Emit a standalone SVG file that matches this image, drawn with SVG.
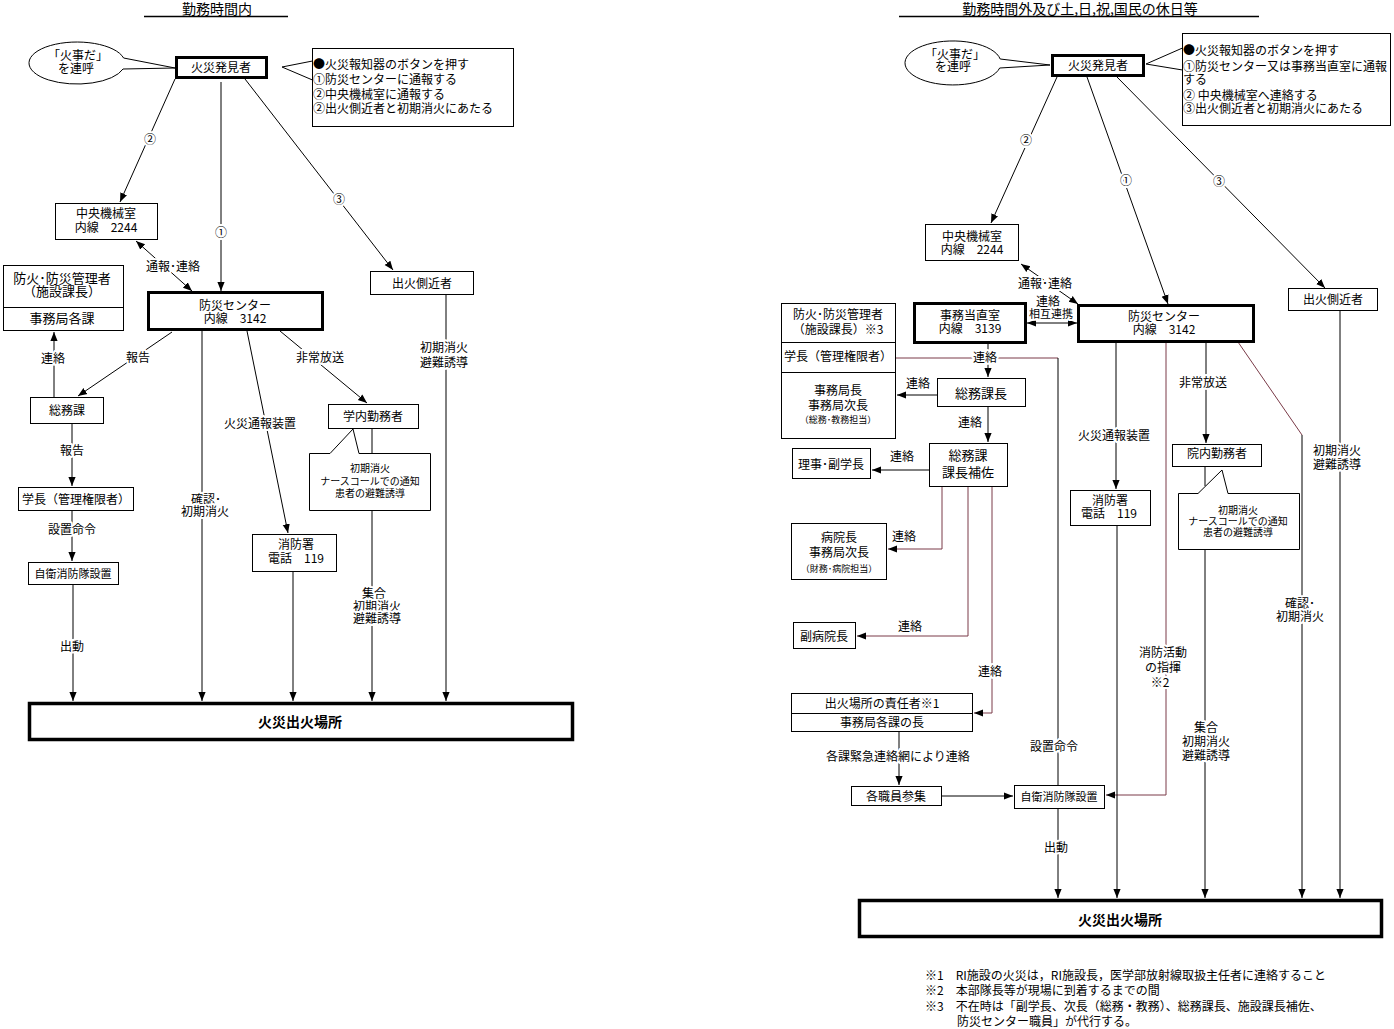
<svg xmlns="http://www.w3.org/2000/svg" width="1394" height="1029" viewBox="0 0 1394 1029">
<style>
text{font-family:"Noto Sans CJK JP","Noto Sans",sans-serif;font-size:12px;fill:#000;text-anchor:middle}
.st{text-anchor:start}
.s{font-size:10px}
.xs{font-size:9px}
.m{font-size:11px}
.b13{font-size:13px}
.ttl{font-size:14px}
.big{font-size:14px;font-weight:bold}
.lb{paint-order:stroke;stroke:#fff;stroke-width:4px;stroke-linejoin:round}
.box{fill:#fff;stroke:#000;stroke-width:1}
.thick{fill:#fff;stroke:#000;stroke-width:3}
.heavy{fill:#fff;stroke:#000;stroke-width:3.5}
.ln{fill:none;stroke:#000;stroke-width:1}
.mr{fill:none;stroke:#7a3b48;stroke-width:1}
.ul{stroke:#000;stroke-width:1.6}
</style>
<defs>
<marker id="ar" viewBox="0 0 10 10" refX="10" refY="5" markerWidth="9" markerHeight="9" markerUnits="userSpaceOnUse" orient="auto-start-reverse">
<path d="M0,1 L10,5 L0,9 z" fill="#000"/>
</marker>
</defs>
<rect width="1394" height="1029" fill="#fff"/>

<g id="connectors">
<!-- left -->
<line class="ln" x1="175" y1="79" x2="120" y2="202" marker-end="url(#ar)"/>
<line class="ln" x1="221" y1="82" x2="221" y2="291" marker-end="url(#ar)"/>
<line class="ln" x1="245" y1="79" x2="393" y2="270" marker-end="url(#ar)"/>
<line class="ln" x1="136" y1="241" x2="192" y2="291" marker-start="url(#ar)" marker-end="url(#ar)"/>
<line class="ln" x1="54" y1="397" x2="54" y2="332" marker-end="url(#ar)"/>
<line class="ln" x1="172" y1="332" x2="78" y2="396" marker-end="url(#ar)"/>
<line class="ln" x1="72" y1="424" x2="72" y2="486" marker-end="url(#ar)"/>
<line class="ln" x1="72" y1="511" x2="72" y2="561" marker-end="url(#ar)"/>
<line class="ln" x1="73" y1="585" x2="73" y2="701" marker-end="url(#ar)"/>
<line class="ln" x1="202" y1="331" x2="202" y2="701" marker-end="url(#ar)"/>
<line class="ln" x1="247" y1="331" x2="288" y2="533" marker-end="url(#ar)"/>
<line class="ln" x1="293" y1="572" x2="293" y2="701" marker-end="url(#ar)"/>
<line class="ln" x1="280" y1="331" x2="367" y2="403" marker-end="url(#ar)"/>
<line class="ln" x1="372" y1="429" x2="372" y2="453"/>
<line class="ln" x1="372" y1="511" x2="372" y2="701" marker-end="url(#ar)"/>
<line class="ln" x1="446" y1="295" x2="446" y2="701" marker-end="url(#ar)"/>
<!-- right -->
<line class="ln" x1="1057" y1="77" x2="991" y2="223" marker-end="url(#ar)"/>
<line class="ln" x1="1087" y1="77" x2="1168" y2="304" marker-end="url(#ar)"/>
<line class="ln" x1="1117" y1="77" x2="1325" y2="288" marker-end="url(#ar)"/>
<line class="ln" x1="1021" y1="264" x2="1078" y2="304" marker-start="url(#ar)" marker-end="url(#ar)"/>
<line class="ln" x1="1027" y1="323" x2="1077" y2="323" marker-start="url(#ar)" marker-end="url(#ar)"/>
<line class="mr" x1="896" y1="358" x2="1058" y2="358"/>
<line class="ln" x1="1058" y1="358" x2="1058" y2="785"/>
<line class="ln" x1="988" y1="343" x2="988" y2="377" marker-end="url(#ar)"/>
<line class="ln" x1="937" y1="395" x2="897" y2="395" marker-end="url(#ar)"/>
<line class="ln" x1="988" y1="407" x2="988" y2="442" marker-end="url(#ar)"/>
<line class="ln" x1="929" y1="470" x2="872" y2="470" marker-end="url(#ar)"/>
<path class="mr" d="M942,487 V549 H888" marker-end="url(#ar)"/>
<path class="mr" d="M968,487 V636 H857" marker-end="url(#ar)"/>
<path class="mr" d="M992,487 V713 H974" marker-end="url(#ar)"/>
<line class="ln" x1="899" y1="732" x2="899" y2="785" marker-end="url(#ar)"/>
<line class="ln" x1="942" y1="796" x2="1013" y2="796" marker-end="url(#ar)"/>
<path class="mr" d="M1166,342 V795 H1106" marker-end="url(#ar)"/>
<line class="ln" x1="1058" y1="809" x2="1058" y2="898" marker-end="url(#ar)"/>
<line class="ln" x1="1116" y1="342" x2="1116" y2="489" marker-end="url(#ar)"/>
<line class="ln" x1="1117" y1="526" x2="1117" y2="898" marker-end="url(#ar)"/>
<line class="ln" x1="1206" y1="342" x2="1206" y2="443" marker-end="url(#ar)"/>
<line class="ln" x1="1205" y1="467" x2="1205" y2="486"/>
<line class="ln" x1="1205" y1="549" x2="1205" y2="898" marker-end="url(#ar)"/>
<path class="mr" d="M1238,342 L1302,435"/>
<line class="ln" x1="1302" y1="435" x2="1302" y2="898" marker-end="url(#ar)"/>
<line class="ln" x1="1340" y1="311" x2="1340" y2="898" marker-end="url(#ar)"/>

<!-- labels left -->
<text class="lb" x="150" y="144">②</text>
<text class="lb" x="221" y="237">①</text>
<text class="lb" x="339" y="204">③</text>
<text class="lb" x="173" y="271">通報･連絡</text>
<text class="lb" x="53" y="363">連絡</text>
<text class="lb" x="138" y="362">報告</text>
<text class="lb" x="72" y="455">報告</text>
<text class="lb" x="72" y="534">設置命令</text>
<text class="lb" x="72" y="651">出動</text>
<text class="lb" y="504"><tspan x="206">確認･</tspan><tspan x="205" dy="12">初期消火</tspan></text>
<text class="lb" x="260" y="428">火災通報装置</text>
<text class="lb" x="320" y="362">非常放送</text>
<text class="lb" y="598"><tspan x="374">集合</tspan><tspan x="377" dy="13">初期消火</tspan><tspan x="377" dy="12">避難誘導</tspan></text>
<text class="lb" y="352"><tspan x="444">初期消火</tspan><tspan x="444" dy="15">避難誘導</tspan></text>
<!-- labels right -->
<text class="lb" x="1026" y="145">②</text>
<text class="lb" x="1126" y="185">①</text>
<text class="lb" x="1219" y="186">③</text>
<text class="lb" x="1045" y="288">通報･連絡</text>
<text class="lb" y="306"><tspan x="1048">連絡</tspan><tspan class="m" x="1051" dy="12">相互連携</tspan></text>
<text class="lb" x="985" y="362">連絡</text>
<text class="lb" x="918" y="388">連絡</text>
<text class="lb" x="970" y="427">連絡</text>
<text class="lb" x="902" y="461">連絡</text>
<text class="lb" x="904" y="541">連絡</text>
<text class="lb" x="910" y="631">連絡</text>
<text class="lb" x="990" y="676">連絡</text>
<text class="lb" x="898" y="761">各課緊急連絡網により連絡</text>
<text class="lb" x="1054" y="751">設置命令</text>
<text class="lb" x="1056" y="852">出動</text>
<text class="lb" y="657"><tspan x="1163">消防活動</tspan><tspan x="1163" dy="15">の指揮</tspan><tspan x="1160" dy="15">※2</tspan></text>
<text class="lb" x="1114" y="440">火災通報装置</text>
<text class="lb" x="1203" y="387">非常放送</text>
<text class="lb" y="732"><tspan x="1206">集合</tspan><tspan x="1206" dy="14">初期消火</tspan><tspan x="1206" dy="14">避難誘導</tspan></text>
<text class="lb" y="608"><tspan x="1300">確認･</tspan><tspan x="1300" dy="13">初期消火</tspan></text>
<text class="lb" y="455"><tspan x="1337">初期消火</tspan><tspan x="1337" dy="14">避難誘導</tspan></text>
</g>

<!-- LEFT nodes -->
<g id="title-l">
<text class="ttl" x="217" y="14">勤務時間内</text>
<line class="ul" x1="144" y1="16.5" x2="288" y2="16.5"/>
</g>
<g id="shout-l">
<path class="box" d="M123.6,58 L175,68 L123,69 A48,21 0 1 1 123.6,58 Z"/>
<text y="60"><tspan x="78">「火事だ」</tspan><tspan x="76" dy="13">を連呼</tspan></text>
</g>
<g id="finder-l">
<rect class="thick" x="176.5" y="57.5" width="90" height="20"/>
<text x="221" y="72">火災発見者</text>
</g>
<g id="note-l">
<rect class="box" x="312.5" y="48.5" width="201" height="78"/>
<line class="ln" x1="282" y1="67" x2="312.5" y2="61"/>
<line class="ln" x1="282" y1="67" x2="312.5" y2="80"/>
<text class="st" y="69"><tspan x="313">●火災報知器のボタンを押す</tspan><tspan x="313" dy="15">①防災センターに通報する</tspan><tspan x="313" dy="14.5">②中央機械室に通報する</tspan><tspan x="313" dy="14.5">②出火側近者と初期消火にあたる</tspan></text>
</g>
<g id="kikai-l">
<rect class="box" x="55.5" y="203.5" width="102" height="36"/>
<text y="217.5"><tspan x="106">中央機械室</tspan><tspan x="106" dy="14">内線　2244</tspan></text>
</g>
<g id="center-l">
<rect class="thick" x="148.5" y="292.5" width="174" height="37"/>
<text y="310"><tspan x="235">防災センター</tspan><tspan x="235" dy="13">内線　3142</tspan></text>
</g>
<g id="kanri-l">
<rect class="box" x="3.5" y="265.5" width="120" height="65"/>
<line class="ln" x1="3.5" y1="307.5" x2="123.5" y2="307.5"/>
<text class="b13" y="283"><tspan x="62">防火･防災管理者</tspan><tspan x="62" dy="13">（施設課長）</tspan></text>
<text class="b13" x="62" y="323">事務局各課</text>
</g>
<g id="somu-l">
<rect class="box" x="30.5" y="397.5" width="73" height="26"/>
<text x="67" y="414.5">総務課</text>
</g>
<g id="gakucho-l">
<rect class="box" x="18.5" y="487.5" width="115" height="23"/>
<text x="76" y="504">学長（管理権限者）</text>
</g>
<g id="jiei-l">
<rect class="box" x="28.5" y="562.5" width="90" height="22"/>
<text class="m" x="73" y="577.5">自衛消防隊設置</text>
</g>
<g id="shobo-l">
<rect class="box" x="252.5" y="534.5" width="84" height="37"/>
<text y="548.5"><tspan x="296">消防署</tspan><tspan x="296" dy="14.5">電話　119</tspan></text>
</g>
<g id="gakunai-l">
<rect class="box" x="328.5" y="404.5" width="90" height="24"/>
<text x="373" y="420.5">学内勤務者</text>
</g>
<g id="gakunai-note-l">
<path class="box" d="M309.5,453.5 H330 L353,429 L359,453.5 H430.5 V510.5 H309.5 Z"/>
<text class="s" y="472"><tspan x="370">初期消火</tspan><tspan x="370" dy="13">ナースコールでの通知</tspan><tspan x="370" dy="12">患者の避難誘導</tspan></text>
</g>
<g id="sokkin-l">
<rect class="box" x="370.5" y="271.5" width="103" height="23"/>
<text x="422" y="287.5">出火側近者</text>
</g>
<g id="fire-l">
<rect class="heavy" x="29.5" y="703.5" width="543" height="36"/>
<text class="big" x="300" y="727">火災出火場所</text>
</g>

<!-- RIGHT nodes -->
<g id="title-r">
<text class="ttl" x="1080" y="14">勤務時間外及び土,日,祝,国民の休日等</text>
<line class="ul" x1="899" y1="16.5" x2="1259" y2="16.5"/>
</g>
<g id="shout-r">
<path class="box" d="M1000.2,59 L1050,65 L999.7,68 A48,22 0 1 1 1000.2,59 Z"/>
<text y="59"><tspan x="955">「火事だ」</tspan><tspan x="953" dy="12">を連呼</tspan></text>
</g>
<g id="finder-r">
<rect class="thick" x="1052.5" y="55.5" width="91" height="20"/>
<text x="1098" y="70">火災発見者</text>
</g>
<g id="note-r">
<rect class="box" x="1182.5" y="33.5" width="208" height="92"/>
<line class="ln" x1="1146" y1="64" x2="1182.5" y2="48"/>
<line class="ln" x1="1146" y1="64" x2="1182.5" y2="70"/>
<text class="st" y="54.5"><tspan x="1183">●火災報知器のボタンを押す</tspan><tspan x="1183" dy="16">①防災センター又は事務当直室に通報</tspan><tspan x="1183" dy="13">する</tspan><tspan x="1183" dy="16">② 中央機械室へ連絡する</tspan><tspan x="1183" dy="13">③出火側近者と初期消火にあたる</tspan></text>
</g>
<g id="kikai-r">
<rect class="box" x="925.5" y="224.5" width="93" height="36"/>
<text y="240.5"><tspan x="972">中央機械室</tspan><tspan x="972" dy="13">内線　2244</tspan></text>
</g>
<g id="tochoku-r">
<rect class="thick" x="914.5" y="303.5" width="111" height="39"/>
<text y="320"><tspan x="970">事務当直室</tspan><tspan x="970" dy="13">内線　3139</tspan></text>
</g>
<g id="center-r">
<rect class="thick" x="1078.5" y="305.5" width="175" height="36"/>
<text y="320.5"><tspan x="1164">防災センター</tspan><tspan x="1164" dy="13">内線　3142</tspan></text>
</g>
<g id="kanri-r">
<rect class="box" x="781.5" y="303.5" width="114" height="135"/>
<line class="ln" x1="781.5" y1="342.5" x2="895.5" y2="342.5"/>
<line class="ln" x1="781.5" y1="372.5" x2="895.5" y2="372.5"/>
<text y="318.5"><tspan x="838">防火･防災管理者</tspan><tspan x="838" dy="15">（施設課長）※3</tspan></text>
<text x="838" y="360.5">学長（管理権限者）</text>
<text y="395"><tspan x="838">事務局長</tspan><tspan x="838" dy="15">事務局次長</tspan><tspan class="xs" x="838" dy="12.5">（総務･教務担当）</tspan></text>
</g>
<g id="somukacho-r">
<rect class="box" x="937.5" y="378.5" width="88" height="28"/>
<text class="b13" x="981" y="397.5">総務課長</text>
</g>
<g id="hosa-r">
<rect class="box" x="929.5" y="443.5" width="78" height="43"/>
<text class="b13" y="460"><tspan x="968">総務課</tspan><tspan x="968" dy="16.5">課長補佐</tspan></text>
</g>
<g id="riji-r">
<rect class="box" x="792.5" y="448.5" width="78" height="30"/>
<text x="831" y="468.5">理事･副学長</text>
</g>
<g id="byoin-r">
<rect class="box" x="791.5" y="523.5" width="95" height="56"/>
<text y="541.5"><tspan x="839">病院長</tspan><tspan x="839" dy="15">事務局次長</tspan><tspan class="xs" x="839" dy="15.5">（財務･病院担当）</tspan></text>
</g>
<g id="fukubyoin-r">
<rect class="box" x="793.5" y="622.5" width="62" height="26"/>
<text x="824" y="640.5">副病院長</text>
</g>
<g id="sekinin-r">
<rect class="box" x="791.5" y="693.5" width="181" height="38"/>
<line class="ln" x1="791.5" y1="713.5" x2="972.5" y2="713.5"/>
<text y="707.5"><tspan x="882">出火場所の責任者※1</tspan><tspan x="882" dy="19">事務局各課の長</tspan></text>
</g>
<g id="shokuin-r">
<rect class="box" x="851.5" y="786.5" width="90" height="19"/>
<text x="896" y="800.5">各職員参集</text>
</g>
<g id="jiei-r">
<rect class="box" x="1014.5" y="785.5" width="90" height="23"/>
<text class="m" x="1059" y="801">自衛消防隊設置</text>
</g>
<g id="shobo-r">
<rect class="box" x="1070.5" y="490.5" width="80" height="35"/>
<text y="504.5"><tspan x="1110">消防署</tspan><tspan x="1109" dy="13">電話　119</tspan></text>
</g>
<g id="innai-r">
<rect class="box" x="1172.5" y="444.5" width="89" height="22"/>
<text x="1217" y="457.5">院内勤務者</text>
</g>
<g id="innai-note-r">
<path class="box" d="M1178.5,493.5 H1198 L1222,470 L1228,493.5 H1299.5 V549.5 H1178.5 Z"/>
<text class="s" y="514"><tspan x="1238">初期消火</tspan><tspan x="1238" dy="11">ナースコールでの通知</tspan><tspan x="1238" dy="11">患者の避難誘導</tspan></text>
</g>
<g id="sokkin-r">
<rect class="box" x="1288.5" y="288.5" width="89" height="22"/>
<text x="1333" y="303.5">出火側近者</text>
</g>
<g id="fire-r">
<rect class="heavy" x="859.5" y="900.5" width="522" height="36"/>
<text class="big" x="1120" y="924.5">火災出火場所</text>
</g>
<g id="notes-r">
<text class="st" y="979.5"><tspan x="925">※1　RI施設の火災は，RI施設長，医学部放射線取扱主任者に連絡すること</tspan><tspan x="925" dy="15">※2　本部隊長等が現場に到着するまでの間</tspan><tspan x="925" dy="16">※3　不在時は「副学長、次長（総務・教務）、総務課長、施設課長補佐、</tspan><tspan x="957" dy="15">防災センター職員」が代行する。</tspan></text>
</g>
</svg>
